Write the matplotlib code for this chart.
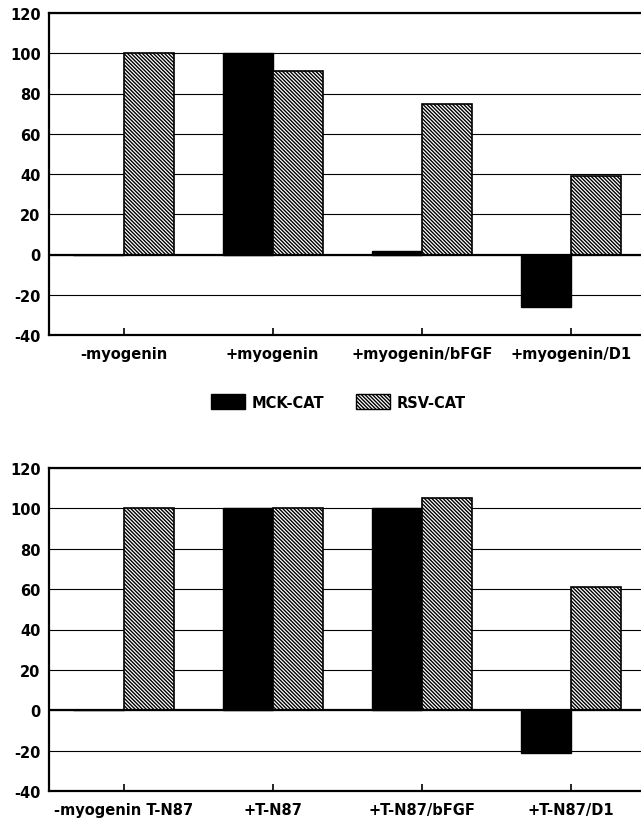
import numpy as np
import matplotlib
matplotlib.use('Agg')
import matplotlib.pyplot as plt
from matplotlib.patches import Patch

# Дані
top_labels = ['-myogenin', '+myogenin', '+myogenin/bFGF', '+myogenin/D1']
top_mck = [0, 100, 1.5, -26]
top_rsv = [100, 91, 75, 39]

bottom_labels = ['-myogenin T-N87', '+T-N87', '+T-N87/bFGF', '+T-N87/D1']
bottom_mck = [0, 100, 100, -21]
bottom_rsv = [100, 100, 105, 61]

series_names = ['MCK-CAT', 'RSV-CAT']
yticks = [-40, -20, 0, 20, 40, 60, 80, 100, 120]

plt.rcParams['font.family'] = ['DejaVu Sans']
plt.rcParams['font.weight'] = 'bold'
plt.rcParams['hatch.linewidth'] = 1.0
fs = 10.5
hatch = '\\' * 9

fig = plt.figure(figsize=(6.41, 8.20), dpi=100)
ax1 = fig.add_axes([49 / 641, 1 - 336 / 820, 1 - 49 / 641, 322 / 820])
ax2 = fig.add_axes([49 / 641, 1 - 792 / 820, 1 - 49 / 641, 323 / 820])

w = 0.336


def draw(ax, labels, mck, rsv):
    x = np.arange(len(labels))
    ax.set_axisbelow(True)
    ax.yaxis.grid(True, color='black', linewidth=0.8)
    ax.bar(x - w / 2, mck, w, color='black', edgecolor='black', linewidth=1.0)
    ax.bar(x + w / 2, rsv, w, color='white', edgecolor='black', linewidth=1.2,
           hatch=hatch)
    ax.axhline(0, color='black', linewidth=1.6)
    ax.set_xlim(-0.5, 3.47)
    ax.set_ylim(-40, 120)
    ax.set_yticks(yticks)
    ax.set_xticks(x)
    ax.set_xticklabels(labels, fontsize=fs, fontweight='bold')
    ax.set_yticklabels([str(t) for t in yticks], fontsize=fs, fontweight='bold')
    ax.tick_params(axis='x', direction='in', length=5, width=1.2, pad=8)
    ax.tick_params(axis='y', length=0, pad=6)
    ax.spines['right'].set_visible(False)
    for s in ['left', 'top', 'bottom']:
        ax.spines[s].set_linewidth(1.6)


draw(ax1, top_labels, top_mck, top_rsv)
draw(ax2, bottom_labels, bottom_mck, bottom_rsv)

handles = [Patch(facecolor='black', edgecolor='black'),
           Patch(facecolor='white', edgecolor='black', hatch=hatch)]
fig.legend(handles, series_names, loc='center', ncol=2,
           bbox_to_anchor=(338.5 / 641, 1 - 403 / 820), frameon=False,
           prop={'size': fs, 'weight': 'bold'}, handlelength=2.3,
           handleheight=1.15, handletextpad=0.45, columnspacing=2.2)

fig.savefig('out.png', dpi=100)
